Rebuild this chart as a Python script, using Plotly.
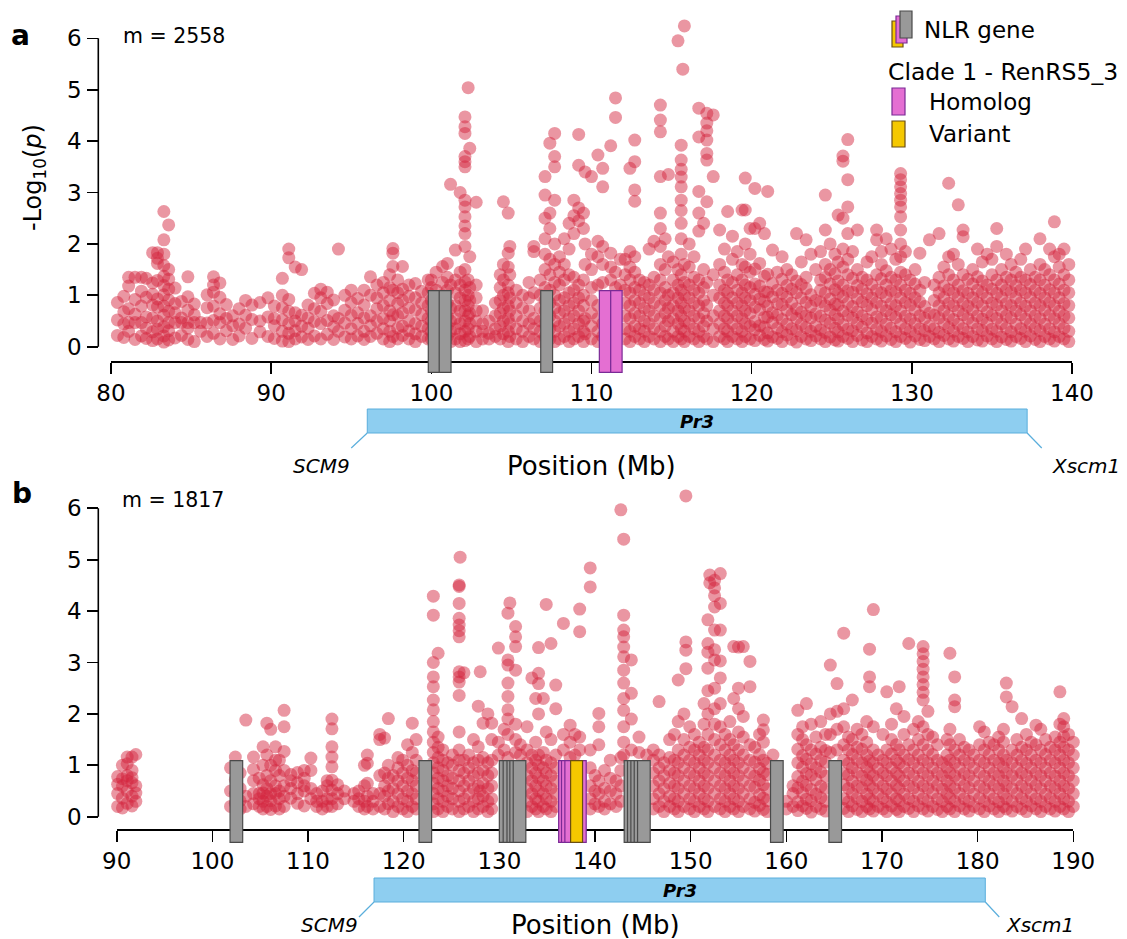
import plotly.graph_objects as go

W, H = 1127, 939

# ---------------- data ----------------
# Panel a: columns of (position Mb, [-log10 p values])
a_cols_80_100 = [
    (80.4, [0.22, 0.52, 0.86]), (80.8, [0.18, 0.44, 0.68, 0.98]),
    (81.1, [0.30, 0.47, 0.74, 1.18, 1.35]), (81.5, [0.14, 0.47, 0.63, 0.92, 1.35]),
    (81.9, [0.21, 0.47, 0.79, 1.08, 1.35]), (82.2, [0.16, 0.36, 0.58, 0.96, 1.33]),
    (82.6, [0.12, 0.29, 0.56, 0.81, 1.02, 1.24, 1.83]),
    (82.9, [0.15, 0.34, 0.50, 0.77, 0.93, 1.29, 1.62, 1.83, 1.72]),
    (83.3, [0.09, 0.21, 0.39, 0.61, 0.79, 1.01, 1.19, 1.37, 1.58, 1.80, 2.08, 2.63]),
    (83.6, [0.13, 0.31, 0.47, 0.69, 0.91, 1.12, 1.31, 1.50, 2.37]),
    (84.0, [0.17, 0.47, 0.66, 0.84, 1.14]), (84.4, [0.22, 0.47, 0.56, 0.88]),
    (84.8, [0.14, 0.36, 0.47, 0.71, 0.97, 1.36]), (85.2, [0.10, 0.47, 0.62, 0.83]),
    (85.6, [0.30, 0.47]), (86.0, [0.20, 0.46, 0.76, 1.01]),
    (86.4, [0.26, 0.51, 0.79, 1.06, 1.20, 1.36]), (86.8, [0.15, 0.47, 0.64, 0.96, 1.24]),
    (87.2, [0.31, 0.55, 0.82]), (87.6, [0.14, 0.41, 0.60]), (88.0, [0.21, 0.44, 0.74]),
    (88.4, [0.36, 0.61, 0.90]), (88.8, [0.16, 0.53, 0.81]), (89.3, [0.29, 0.50, 0.86]),
    (89.8, [0.20, 0.58, 0.95]), (90.2, [0.16, 0.41, 0.55, 0.79]),
    (90.7, [0.11, 0.30, 0.52, 0.76, 1.00, 1.33]),
    (91.1, [0.10, 0.26, 0.45, 0.69, 0.92, 1.73, 1.90]),
    (91.5, [0.15, 0.31, 0.50, 0.66, 1.55]), (91.9, [0.19, 0.40, 0.61, 1.50]),
    (92.3, [0.14, 0.36, 0.56, 0.81]), (92.7, [0.21, 0.49, 0.74, 1.04]),
    (93.1, [0.15, 0.45, 0.69, 0.95, 1.12]), (93.5, [0.24, 0.51, 0.84, 1.06]),
    (93.9, [0.14, 0.39, 0.60, 0.91]), (94.2, [0.30, 0.55, 1.90]),
    (94.6, [0.19, 0.46, 0.71, 1.00]), (95.0, [0.15, 0.35, 0.61, 0.86, 1.10]),
    (95.4, [0.21, 0.45, 0.66, 0.94]), (95.8, [0.14, 0.30, 0.56, 0.81, 1.10]),
    (96.2, [0.20, 0.41, 0.60, 1.00, 1.36]), (96.6, [0.26, 0.50, 0.74, 0.95, 1.20]),
    (97.0, [0.15, 0.35, 0.55, 0.80, 1.05, 1.25]),
    (97.4, [0.10, 0.30, 0.50, 0.70, 0.90, 1.15, 1.40]),
    (97.6, [0.20, 0.62, 1.10, 1.56, 1.82, 1.91]),
    (97.9, [0.15, 0.36, 0.60, 0.84, 1.05, 1.30]),
    (98.2, [0.22, 0.40, 0.66, 0.90, 1.12, 1.56]),
    (98.6, [0.15, 0.31, 0.50, 0.75, 0.98, 1.20]),
    (99.0, [0.10, 0.25, 0.45, 0.71, 0.95, 1.23]),
    (99.4, [0.20, 0.40, 0.62, 0.85, 1.08]),
    (99.8, [0.15, 0.35, 0.55, 0.80, 1.05, 1.30]),
]
a_cols_100_120 = [
    (100.0, [0.15, 0.30, 0.50, 0.70, 0.90, 1.15, 1.30]),
    (100.3, [0.10, 0.25, 0.45, 0.65, 0.85, 1.10, 1.45]),
    (100.7, [0.15, 0.35, 0.55, 0.80, 1.00, 1.25, 1.56]),
    (101.0, [0.20, 0.40, 0.60, 0.85, 1.10, 1.35, 1.62]),
    (101.2, [0.10, 0.30, 0.50, 0.75, 1.20, 3.16]),
    (101.5, [0.15, 0.35, 0.55, 0.80, 1.05, 1.30, 1.88]),
    (101.8, [0.10, 0.25, 0.45, 0.70, 0.95, 1.20, 1.45, 3.00]),
    (102.1, [0.12, 0.30, 0.50, 0.70, 0.90, 1.10, 1.26, 1.50, 1.95, 2.20, 2.35, 2.53,
             2.72, 2.85, 3.50, 3.60, 3.70, 4.15, 4.28, 4.47]),
    (102.3, [0.15, 0.35, 0.60, 0.80, 1.00, 1.30, 5.04]),
    (102.4, [0.20, 0.45, 0.65, 0.90, 1.15, 1.75, 3.86]),
    (102.8, [0.10, 0.30, 0.50, 0.70, 0.95, 1.20, 2.81]),
    (103.2, [0.15, 0.30, 0.45, 0.70]), (103.6, [0.15, 0.26, 0.50]),
    (104.0, [0.20, 0.35, 0.60, 0.85]), (104.3, [0.15, 0.40, 0.65, 0.90, 1.15, 1.40]),
    (104.5, [0.25, 0.50, 0.75, 1.00, 1.30, 1.60, 2.82]),
    (104.8, [0.10, 0.30, 0.55, 0.80, 1.05, 1.20, 1.55, 1.82, 2.60]),
    (104.9, [0.20, 0.45, 0.70, 0.95, 1.40, 1.95]),
    (105.3, [0.15, 0.35, 0.60, 0.85, 1.10]), (105.7, [0.10, 0.30, 0.50, 0.75, 1.00]),
    (106.1, [0.20, 0.45, 0.70, 0.95, 1.25]), (106.4, [0.15, 0.35, 0.55, 1.05, 1.85, 1.95]),
    (106.8, [0.10, 0.30, 0.50, 0.75, 1.00, 1.30]),
    (107.1, [0.20, 0.45, 0.70, 0.90, 1.15, 1.50, 1.80, 2.10, 2.50, 2.95, 3.31]),
    (107.4, [0.15, 0.35, 0.60, 0.85, 1.10, 1.40, 1.70, 2.30, 2.60, 3.96]),
    (107.7, [0.10, 0.30, 0.50, 0.75, 1.00, 1.25, 1.60, 2.00, 2.85, 3.50, 3.70, 4.15]),
    (108.0, [0.15, 0.40, 0.65, 0.90, 1.20, 1.45, 1.75]),
    (108.3, [0.20, 0.45, 0.70, 0.95, 1.30, 1.60, 2.10]),
    (108.6, [0.10, 0.30, 0.55, 0.80, 1.05, 1.40, 1.90, 2.40]),
    (108.9, [0.15, 0.35, 0.60, 0.85, 1.10, 1.35, 2.20, 2.55, 2.85]),
    (109.2, [0.20, 0.45, 0.70, 0.95, 1.20, 2.45, 2.70, 3.53, 4.13]),
    (109.5, [0.10, 0.30, 0.50, 0.80, 1.00, 1.30, 2.30, 2.60]),
    (109.6, [0.25, 0.55, 1.60, 2.00, 3.40]),
    (110.0, [0.15, 0.40, 0.65, 0.90, 1.15, 1.50, 1.80, 3.31]),
    (110.4, [0.10, 0.30, 0.55, 0.80, 1.20, 1.75, 2.05, 3.73]),
    (110.7, [0.20, 0.45, 1.25, 1.60, 1.95, 3.11, 3.47]),
    (111.2, [1.30, 1.55, 1.82, 3.91]), (111.5, [1.15, 1.45, 4.46, 4.84]),
    (111.8, [1.20, 1.70]),
    (112.1, [0.15, 0.35, 0.60, 0.85, 1.10, 1.40, 1.70]),
    (112.4, [0.10, 0.30, 0.55, 0.80, 1.05, 1.30, 1.55, 1.85, 3.47]),
    (112.7, [0.20, 0.40, 0.65, 0.90, 1.15, 1.45, 1.75, 2.83, 3.05, 3.60, 4.02]),
    (113.0, [0.15, 0.35, 0.60, 0.85, 1.10, 1.30]),
    (113.3, [0.10, 0.30, 0.50, 0.75, 1.00, 1.25]),
    (113.6, [0.20, 0.45, 0.70, 0.95, 1.20, 1.90]),
    (113.9, [0.15, 0.35, 0.60, 0.85, 1.10, 1.35, 2.05]),
    (114.3, [0.10, 0.30, 0.55, 0.80, 1.05, 1.30, 1.60, 1.95, 2.30, 2.60, 3.31, 4.18,
             4.41, 4.70]),
    (114.6, [0.20, 0.40, 0.65, 0.90, 1.15, 1.50, 2.10]),
    (114.8, [0.15, 0.50, 0.75, 1.00, 1.75, 3.35]),
    (115.1, [0.10, 0.30, 0.55, 0.80, 1.05, 1.30, 1.65]),
    (115.4, [0.20, 0.45, 0.70, 0.95, 1.20, 1.50, 5.95]),
    (115.6, [0.15, 0.35, 0.60, 0.85, 1.10, 1.40, 1.80, 2.10, 2.40, 2.65, 2.85, 3.11,
             3.30, 3.45, 3.63, 3.92]),
    (115.7, [5.40]), (115.8, [0.10, 0.30, 0.50, 0.75, 1.00, 1.25, 1.60, 6.24]),
    (116.1, [0.20, 0.45, 0.70, 0.95, 1.20, 1.55, 2.00]),
    (116.4, [0.15, 0.35, 0.60, 0.85, 1.10, 1.35, 1.75]),
    (116.7, [0.10, 0.30, 0.55, 0.80, 1.05, 1.30, 2.25, 2.60, 3.02, 4.08, 4.64]),
    (117.0, [0.20, 0.40, 0.65, 0.90, 1.15, 1.50, 2.40]),
    (117.2, [0.15, 0.50, 0.80, 1.25, 2.82, 3.63, 3.76, 4.02, 4.20, 4.35, 4.54]),
    (117.6, [0.10, 0.35, 0.60, 1.00, 1.40, 3.31, 4.51]),
    (118.0, [0.20, 0.45, 0.70, 0.95, 1.20, 1.60, 2.27]),
    (118.3, [0.15, 0.35, 0.60, 0.85, 1.10, 1.45, 1.90]),
    (118.5, [0.10, 0.30, 0.55, 0.80, 1.05, 1.30, 2.63]),
    (118.8, [0.20, 0.45, 0.70, 0.95, 1.25, 1.70, 2.15]),
    (119.1, [0.15, 0.35, 0.60, 0.85, 1.10, 1.40, 1.85]),
    (119.4, [0.10, 0.30, 0.55, 0.80, 1.05, 1.30, 1.60, 2.66]),
    (119.6, [0.20, 0.45, 0.70, 0.95, 1.20, 1.55, 2.00, 2.66, 3.28]),
    (119.9, [0.15, 0.40, 0.65, 0.90, 1.15, 1.45, 1.80, 2.30]),
]
a_cols_120_140 = [
    (120.2, [0.12, 0.33, 0.49, 0.77, 1.02, 1.22, 1.51, 2.30, 3.08]),
    (120.5, [0.22, 0.41, 0.72, 0.93, 1.18, 1.62, 2.40]),
    (120.8, [0.14, 0.38, 0.57, 0.88, 1.07, 1.37, 2.20]),
    (121.0, [0.11, 0.27, 0.58, 0.79, 1.06, 1.41, 3.02]),
    (121.3, [0.19, 0.47, 0.66, 0.97, 1.23, 1.88]),
    (121.6, [0.16, 0.36, 0.61, 0.84, 1.10, 1.45]),
    (121.9, [0.10, 0.29, 0.53, 0.82, 1.04, 1.31, 1.75]),
    (122.2, [0.23, 0.44, 0.71, 0.96, 1.19, 1.50]),
    (122.5, [0.14, 0.35, 0.62, 0.85, 1.12, 1.40]),
    (122.8, [0.09, 0.31, 0.55, 0.74, 1.05, 1.28, 2.20]),
    (123.1, [0.20, 0.44, 0.67, 0.95, 1.21, 1.65]),
    (123.4, [0.15, 0.37, 0.60, 0.86, 1.13, 1.35, 2.08]),
    (123.7, [0.12, 0.30, 0.56, 0.78, 1.01, 1.80]),
    (124.0, [0.21, 0.40, 0.64, 0.90, 1.50]),
    (124.3, [0.15, 0.33, 0.59, 0.87, 1.10, 1.30, 1.85]),
    (124.6, [0.10, 0.28, 0.52, 0.80, 1.05, 1.35, 1.60, 2.27, 2.95]),
    (124.9, [0.19, 0.46, 0.71, 0.93, 1.22, 1.50, 2.00]),
    (125.2, [0.13, 0.36, 0.62, 0.83, 1.11, 1.42, 1.80]),
    (125.4, [0.11, 0.29, 0.54, 0.81, 1.04, 1.28, 1.65, 2.56]),
    (125.7, [0.20, 0.43, 0.69, 0.97, 1.20, 1.55, 1.90, 2.50, 3.61, 3.71]),
    (126.0, [0.16, 0.34, 0.61, 0.85, 1.09, 1.40, 1.70, 2.20, 2.72, 3.25, 4.03]),
    (126.3, [0.10, 0.31, 0.56, 0.78, 1.06, 1.33, 1.85]),
    (126.6, [0.22, 0.45, 0.68, 0.94, 1.19, 1.50, 2.27]),
    (126.9, [0.13, 0.38, 0.60, 0.87, 1.12, 1.35]),
    (127.2, [0.10, 0.27, 0.53, 0.80, 1.03, 1.30, 1.65]),
    (127.5, [0.20, 0.46, 0.72, 0.95, 1.21, 1.75]),
    (127.8, [0.15, 0.34, 0.58, 0.86, 1.10, 1.40, 2.08, 2.27]),
    (128.1, [0.11, 0.30, 0.55, 0.79, 1.05, 1.32, 1.60, 1.85]),
    (128.4, [0.21, 0.44, 0.70, 0.97, 1.20, 1.48, 2.10]),
    (128.7, [0.14, 0.36, 0.62, 0.84, 1.09, 1.35, 1.90]),
    (129.0, [0.10, 0.29, 0.57, 0.80, 1.06, 1.30, 1.70]),
    (129.3, [0.20, 0.45, 0.70, 0.95, 1.20, 1.45, 1.75, 2.00, 2.27, 2.53, 2.72, 2.85,
             2.98, 3.11, 3.25, 3.37]),
    (129.6, [0.16, 0.35, 0.59, 0.86, 1.10, 1.40, 1.85]),
    (129.9, [0.09, 0.30, 0.54, 0.81, 1.04, 1.30]),
    (130.2, [0.21, 0.45, 0.71, 0.95, 1.22, 1.50]),
    (130.5, [0.14, 0.35, 0.60, 0.87, 1.10, 1.82]),
    (130.8, [0.12, 0.31, 0.55, 0.78, 1.25]),
    (131.1, [0.20, 0.40, 0.65, 2.08]),
    (131.4, [0.15, 0.35, 0.61, 0.90, 1.20]),
    (131.7, [0.10, 0.28, 0.56, 0.80, 1.05, 1.35, 2.20]),
    (132.0, [0.22, 0.45, 0.70, 0.95, 1.18, 1.55]),
    (132.3, [0.15, 0.37, 0.60, 0.84, 1.11, 1.40, 1.75, 3.18]),
    (132.6, [0.11, 0.30, 0.53, 0.80, 1.05, 1.30, 1.80]),
    (132.9, [0.20, 0.44, 0.70, 0.96, 1.20, 1.60, 2.76]),
    (133.2, [0.16, 0.35, 0.62, 0.85, 1.09, 1.40, 2.14, 2.27]),
    (133.5, [0.10, 0.29, 0.55, 0.79, 1.04, 1.31]),
    (133.8, [0.20, 0.46, 0.71, 0.95, 1.22, 1.50]),
    (134.1, [0.13, 0.35, 0.60, 0.86, 1.10, 1.36, 1.90]),
    (134.4, [0.11, 0.31, 0.54, 0.80, 1.05, 1.28, 1.65]),
    (134.7, [0.21, 0.45, 0.68, 0.95, 1.20, 1.80]),
    (135.0, [0.15, 0.34, 0.61, 0.85, 1.12, 1.40, 1.70]),
    (135.3, [0.10, 0.30, 0.55, 0.81, 1.04, 1.30, 1.95, 2.30]),
    (135.6, [0.19, 0.45, 0.70, 0.96, 1.20, 1.50]),
    (135.9, [0.14, 0.36, 0.60, 0.84, 1.10, 1.35, 1.80]),
    (136.2, [0.11, 0.29, 0.56, 0.80, 1.06, 1.30, 1.60]),
    (136.5, [0.20, 0.44, 0.70, 0.95, 1.19, 1.45]),
    (136.8, [0.16, 0.35, 0.62, 0.85, 1.10, 1.35, 1.70]),
    (137.1, [0.10, 0.30, 0.54, 0.79, 1.05, 1.30, 1.90]),
    (137.4, [0.21, 0.45, 0.70, 0.96, 1.21, 1.50]),
    (137.7, [0.14, 0.36, 0.60, 0.85, 1.10, 1.35]),
    (138.0, [0.10, 0.31, 0.55, 0.80, 1.04, 1.30, 1.60, 2.10]),
    (138.3, [0.20, 0.44, 0.71, 0.95, 1.20, 1.50]),
    (138.6, [0.15, 0.35, 0.61, 0.86, 1.11, 1.40, 1.90]),
    (138.9, [0.11, 0.29, 0.55, 0.80, 1.05, 1.30, 1.75, 2.43]),
    (139.2, [0.20, 0.45, 0.69, 0.95, 1.22, 1.55, 1.80]),
    (139.5, [0.15, 0.36, 0.60, 0.84, 1.10, 1.40, 1.90]),
    (139.8, [0.10, 0.30, 0.56, 0.80, 1.05, 1.30, 1.60]),
    (140.1, [0.21, 0.45, 0.70, 0.95, 1.20]),
]

# Panel b
b_cols_90_118 = [
    (90.1, [0.20, 0.45, 0.63, 0.78]), (90.6, [0.17, 0.36, 0.60, 0.74, 1.00]),
    (91.1, [0.26, 0.50, 0.70, 0.80, 1.03, 1.16]), (91.6, [0.21, 0.40, 0.66, 0.76, 0.90, 1.16]),
    (92.0, [0.30, 0.46, 0.60, 1.21]),
    (101.9, [0.20, 0.50, 0.95]), (102.4, [0.26, 0.45, 0.72, 1.16]),
    (102.9, [0.15, 0.31, 0.55, 0.85]), (103.5, [0.20, 0.40, 1.88]),
    (104.3, [0.25, 0.45, 0.70, 0.92, 1.16]), (104.9, [0.20, 0.35, 0.45, 0.75]),
    (105.3, [0.15, 0.30, 0.46, 0.62, 1.00, 1.36]), (105.7, [0.20, 0.40, 0.55, 0.80, 1.20, 1.82]),
    (106.1, [0.14, 0.31, 0.45, 0.70, 1.00, 1.70]), (106.6, [0.21, 0.45, 0.60, 0.90, 1.10, 1.36]),
    (107.0, [0.15, 0.35, 0.50, 0.80, 1.10]), (107.5, [0.20, 0.40, 0.60, 0.90, 1.27, 1.75, 2.07]),
    (108.2, [0.36, 0.55, 0.70, 0.82]), (108.9, [0.26, 0.45, 0.66, 0.86]),
    (109.6, [0.21, 0.50, 0.60, 0.75, 0.90]), (110.3, [0.35, 0.55, 0.90, 1.14]),
    (110.9, [0.20, 0.30, 0.45]), (111.5, [0.15, 0.30, 0.50]), (112.0, [0.20, 0.35, 0.60, 0.70]),
    (112.5, [0.20, 0.35, 0.52, 0.71, 0.97, 1.16, 1.36, 1.71, 1.90]),
    (113.1, [0.25, 0.45, 0.62]), (113.8, [0.35, 0.50]), (114.8, [0.30, 0.45]),
    (115.3, [0.20, 0.35, 0.50]), (115.9, [0.15, 0.30, 0.60, 1.00]),
    (116.2, [0.20, 0.40, 0.65, 1.04, 1.20]), (116.8, [0.15, 0.30, 0.45]),
    (117.5, [0.20, 0.45, 0.80, 1.50, 1.60]),
]
b_cols_118_156 = [
    (118.0, [0.15, 0.40, 0.60, 0.85, 1.53]), (118.4, [0.25, 0.50, 0.75, 1.00, 1.91]),
    (118.9, [0.10, 0.30, 0.55, 0.80]), (119.4, [0.20, 0.45, 0.70, 0.95, 1.15]),
    (119.9, [0.15, 0.35, 0.60, 0.85, 1.10]), (120.4, [0.10, 0.30, 0.50, 0.75, 1.00, 1.40]),
    (120.9, [0.20, 0.45, 0.70, 0.90, 1.25, 1.82]), (121.3, [0.15, 0.35, 0.60, 0.85, 1.10, 1.50]),
    (123.1, [0.10, 0.25, 0.45, 0.65, 0.85, 1.05, 1.25, 1.45, 1.65, 1.85, 2.08, 2.27,
             2.53, 2.72, 3.00, 3.92, 4.29]),
    (123.6, [0.15, 0.35, 0.55, 0.75, 0.95, 1.15, 1.35, 1.55, 3.18]),
    (124.1, [0.10, 0.30, 0.50, 0.70, 0.90, 1.10, 1.30]),
    (124.6, [0.20, 0.40, 0.60, 0.80, 1.05]), (125.1, [0.15, 0.35, 0.55, 0.75, 1.00, 1.20]),
    (125.8, [0.10, 0.30, 0.50, 0.70, 0.90, 1.10, 1.30, 1.65, 2.36, 2.62, 2.72, 2.82,
             3.50, 3.62, 3.73, 3.86, 4.15, 4.48, 4.51]),
    (125.9, [5.05]), (126.3, [0.15, 0.35, 0.60, 0.85, 1.10, 2.80]),
    (126.8, [0.20, 0.45, 0.70, 0.95, 1.20]), (127.3, [0.10, 0.30, 0.55, 0.80, 1.05, 1.50]),
    (127.8, [0.15, 0.35, 0.60, 0.85, 1.10, 1.36, 2.15]), (128.0, [0.50, 2.82]),
    (128.3, [0.20, 0.40, 0.65, 0.90, 1.15, 1.82]), (128.8, [0.10, 0.30, 0.55, 0.80, 1.05, 2.00]),
    (129.2, [0.15, 0.35, 0.60, 0.85, 1.10, 1.50, 1.82]),
    (129.9, [1.20, 1.45, 3.28]), (130.5, [1.30, 1.70]),
    (130.9, [1.15, 1.60, 1.90, 2.08, 2.34, 2.60, 2.95, 3.05, 3.96]), (131.1, [4.16]),
    (131.7, [1.25, 1.50, 1.80, 2.85, 3.31, 3.50, 3.70]), (132.2, [1.20, 1.40]),
    (132.9, [0.10, 0.30, 0.55, 0.80, 1.05, 1.30, 1.75]),
    (133.4, [0.20, 0.45, 0.70, 0.95, 1.20, 2.70]),
    (133.8, [0.15, 0.35, 0.60, 0.85, 1.10, 1.45, 2.30]),
    (134.1, [0.10, 0.30, 0.50, 0.75, 1.00, 1.20, 2.00, 2.59, 2.79, 3.29]),
    (134.6, [0.20, 0.45, 0.70, 0.95, 1.25, 2.30]),
    (134.9, [0.15, 0.35, 0.60, 0.85, 1.10, 1.65, 4.13]),
    (135.4, [0.10, 0.30, 0.55, 0.80, 1.05, 1.50, 3.37]),
    (135.9, [0.20, 0.45, 0.70, 0.95, 1.20, 2.10, 2.56]),
    (136.7, [1.30, 1.60, 3.76]), (137.4, [1.15, 1.45, 1.78]), (137.9, [1.20, 1.60]),
    (138.4, [1.30, 1.55, 3.60, 4.04]),
    (139.5, [0.15, 0.35, 0.60, 0.95, 1.30, 4.47, 4.84]), (140.0, [0.25, 0.50, 0.80]),
    (140.4, [0.20, 0.45, 0.70, 1.40, 1.75, 2.01]), (141.0, [0.15, 0.30, 0.55, 0.90]),
    (141.6, [0.25, 0.50, 0.75, 1.10]), (142.2, [0.20, 0.45, 0.70]),
    (142.7, [0.30, 0.60, 0.90, 1.15, 5.97]),
    (143.0, [1.20, 1.45, 1.75, 2.07, 2.30, 2.60, 2.85, 3.11, 3.30, 3.50, 3.63, 3.92, 5.40]),
    (143.8, [1.30, 1.90, 2.40, 3.05]), (144.6, [1.25, 1.55]), (145.4, [1.20]),
    (146.1, [0.15, 0.35, 0.60, 0.85, 1.10, 1.30]),
    (146.7, [0.20, 0.45, 0.70, 0.95, 1.20, 2.24]),
    (147.2, [0.10, 0.30, 0.55, 0.80, 1.05]), (147.8, [0.20, 0.40, 0.65, 0.90, 1.15, 1.50]),
    (148.3, [0.15, 0.35, 0.60, 0.85, 1.10, 1.60]),
    (148.7, [0.10, 0.30, 0.55, 0.80, 1.05, 1.30, 1.85, 2.66]),
    (149.3, [0.20, 0.45, 0.70, 0.95, 1.20, 1.50, 2.00]), (149.5, [2.88, 3.24, 3.40, 6.24]),
    (149.9, [0.15, 0.35, 0.60, 0.85, 1.10, 1.35, 1.75]),
    (150.4, [0.10, 0.30, 0.55, 0.80, 1.05, 1.30, 1.60]),
    (150.9, [0.20, 0.45, 0.70, 0.95, 1.20, 1.45]),
    (151.4, [0.15, 0.35, 0.60, 0.85, 1.10, 1.35, 1.80, 2.20]),
    (151.8, [0.10, 0.30, 0.55, 0.80, 1.05, 1.30, 1.60, 2.00, 2.45, 2.89, 3.20, 3.37, 3.83]),
    (152.0, [4.55, 4.70]),
    (152.5, [0.20, 0.45, 0.70, 0.95, 1.20, 1.50, 1.80, 2.10, 2.50, 3.05, 3.25, 3.63,
             4.08, 4.30, 4.45, 4.60]),
    (153.1, [0.15, 0.35, 0.60, 0.85, 1.10, 1.40, 1.75, 2.20, 2.70, 3.03, 3.63, 4.15, 4.73]),
    (153.6, [0.10, 0.30, 0.55, 0.80, 1.05, 1.30, 1.60]),
    (154.1, [0.20, 0.45, 0.70, 0.95, 1.20, 1.50, 1.85]),
    (154.5, [0.15, 0.35, 0.60, 0.85, 1.10, 1.40, 2.30, 3.31]),
    (155.0, [0.10, 0.30, 0.55, 0.80, 1.05, 1.30, 1.65, 2.10, 2.50, 3.30]),
    (155.5, [0.20, 0.45, 0.70, 0.95, 1.20, 1.55, 1.95, 3.31]),
    (156.2, [0.15, 0.35, 0.60, 0.85, 1.10, 1.40, 2.53, 3.02]),
]
b_cols_156_190 = [
    (156.7, [0.11, 0.28, 0.57, 0.79, 1.06, 1.35]), (157.2, [0.22, 0.43, 0.71, 0.94, 1.21, 1.60]),
    (157.6, [0.14, 0.36, 0.62, 0.86, 1.10, 1.45, 1.69, 1.88]),
    (158.0, [0.10, 0.31, 0.54, 0.82, 1.04]), (158.6, [1.20]),
    (160.0, [0.15, 0.30]), (160.7, [0.20, 0.45, 0.60]),
    (161.2, [0.12, 0.29, 0.56, 0.78, 1.05, 1.31, 1.60, 2.07]),
    (161.7, [0.21, 0.46, 0.69, 0.96, 1.19, 1.50, 1.75]),
    (162.1, [0.16, 0.34, 0.61, 0.84, 1.12, 1.40, 2.20]),
    (162.6, [0.09, 0.31, 0.53, 0.81, 1.03, 1.30, 1.80]),
    (163.1, [0.20, 0.44, 0.72, 0.95, 1.22, 1.55]),
    (163.6, [0.15, 0.37, 0.59, 0.87, 1.10, 1.35, 1.85]),
    (164.1, [0.11, 0.30, 0.55, 0.79, 1.06, 1.29, 1.60]),
    (164.6, [1.25, 1.60, 2.00, 2.95]), (165.3, [1.30, 1.70, 2.05, 2.59]),
    (166.0, [0.16, 0.35, 0.62, 0.84, 1.10, 1.40, 1.75, 2.10, 3.57]),
    (166.5, [0.10, 0.29, 0.55, 0.81, 1.04, 1.30, 1.55]),
    (166.9, [0.21, 0.45, 0.69, 0.95, 1.21, 1.50, 2.27]),
    (167.4, [0.14, 0.36, 0.60, 0.86, 1.11, 1.35, 1.70]),
    (167.9, [0.10, 0.30, 0.56, 0.79, 1.05, 1.31, 1.60]),
    (168.4, [0.20, 0.44, 0.71, 0.96, 1.20, 1.45, 1.85]),
    (168.7, [0.15, 0.35, 0.61, 0.85, 1.09, 2.53, 2.72, 3.26]),
    (169.1, [0.11, 0.30, 0.55, 0.80, 1.05, 1.30, 1.75, 4.03]),
    (169.6, [0.20, 0.45, 0.70, 0.94, 1.20]), (170.1, [0.15, 0.36, 0.60, 0.85, 1.10, 1.60]),
    (170.5, [0.10, 0.29, 0.54, 0.80, 1.05, 1.30, 2.43]),
    (171.0, [0.21, 0.45, 0.70, 0.95, 1.22, 1.50, 1.80]),
    (171.5, [0.14, 0.35, 0.61, 0.85, 1.10, 1.40, 2.10]),
    (171.8, [0.10, 0.31, 0.55, 0.79, 1.04, 1.30, 2.53]),
    (172.3, [0.20, 0.44, 0.70, 0.96, 1.20, 1.60, 1.95]),
    (172.8, [0.16, 0.35, 0.60, 0.85, 1.11, 1.40, 3.37]),
    (173.3, [0.10, 0.30, 0.56, 0.80, 1.05, 1.30, 1.70]),
    (173.8, [0.21, 0.45, 0.69, 0.95, 1.20, 1.50, 1.85]),
    (174.3, [0.15, 0.35, 0.60, 0.85, 1.10, 1.40, 1.75, 2.27, 2.42, 2.57, 2.72, 2.87,
             3.02, 3.17, 3.31]),
    (174.8, [0.11, 0.30, 0.55, 0.80, 1.05, 1.30, 1.60, 2.05]),
    (175.3, [0.20, 0.46, 0.70, 0.95, 1.21, 1.55]),
    (175.8, [0.14, 0.35, 0.61, 0.85, 1.10, 1.40]),
    (176.3, [0.10, 0.30, 0.54, 0.80, 1.05]),
    (176.8, [0.20, 0.45, 0.70, 0.96, 1.20, 1.50]),
    (177.1, [0.15, 0.36, 0.60, 0.85, 1.10, 1.40, 1.70, 3.18]),
    (177.6, [0.10, 0.30, 0.55, 0.80, 1.05, 1.30, 2.14, 2.27, 2.72]),
    (178.1, [0.21, 0.45, 0.71, 0.95, 1.20, 1.50]),
    (178.6, [0.15, 0.35, 0.60, 0.84, 1.10, 1.35]),
    (179.1, [0.11, 0.30, 0.56, 0.80, 1.05, 1.30]),
    (179.6, [0.20, 0.44, 0.70, 0.95, 1.20]),
    (180.2, [0.15, 0.36, 0.60, 0.86, 1.10, 1.40, 1.75]),
    (180.7, [0.10, 0.30, 0.55, 0.79, 1.05, 1.30, 1.65]),
    (181.2, [0.21, 0.45, 0.70, 0.95, 1.21, 1.45]),
    (181.7, [0.15, 0.35, 0.61, 0.85, 1.10, 1.40]),
    (182.2, [0.10, 0.29, 0.55, 0.80, 1.05, 1.30, 1.55]),
    (182.7, [0.20, 0.45, 0.70, 0.96, 1.20, 1.45, 1.70]),
    (183.0, [0.15, 0.35, 0.60, 0.85, 1.10, 2.33, 2.60]),
    (183.6, [0.11, 0.30, 0.55, 0.80, 1.05, 1.30, 2.14]),
    (184.1, [0.20, 0.45, 0.71, 0.95, 1.20, 1.50]),
    (184.6, [0.15, 0.36, 0.60, 0.85, 1.10, 1.35, 1.91]),
    (185.1, [0.10, 0.30, 0.55, 0.80, 1.04, 1.30, 1.60]),
    (185.6, [0.21, 0.45, 0.70, 0.95, 1.20, 1.45]),
    (186.1, [0.15, 0.35, 0.61, 0.85, 1.10, 1.40, 1.78]),
    (186.6, [0.10, 0.30, 0.55, 0.80, 1.05, 1.30, 1.70]),
    (187.1, [0.20, 0.44, 0.70, 0.95, 1.21, 1.50]),
    (187.6, [0.15, 0.36, 0.60, 0.85, 1.10, 1.35]),
    (188.1, [0.11, 0.30, 0.55, 0.79, 1.05, 1.30, 1.55]),
    (188.6, [0.20, 0.45, 0.70, 0.95, 1.20, 1.45, 1.80, 2.43]),
    (189.0, [0.15, 0.35, 0.60, 0.85, 1.10, 1.35, 1.56, 1.75, 1.91]),
    (189.5, [0.10, 0.30, 0.55, 0.80, 1.05, 1.30, 1.60]),
    (190.0, [0.20, 0.45, 0.70, 0.95, 1.20, 1.45]),
    (190.3, [0.25, 0.55, 0.85, 1.15]),
]

# NLR genes (start Mb) for each panel
a_nlr_grey = [99.81, 100.49, 106.83]
a_nlr_homolog = [110.49, 111.20]
b_nlr_grey = [101.85, 121.6, 130.0, 130.4, 130.8, 131.1, 131.45,
              143.05, 143.4, 143.75, 144.1, 144.45, 158.35, 164.45]
b_nlr_homolog = [136.2, 136.5, 136.85, 137.75]
b_nlr_variant = [137.45]
a_pr3 = (96.0, 137.2)
b_pr3 = (116.9, 180.8)
a_m, b_m = 2558, 1817
a_xticks = [80, 90, 100, 110, 120, 130, 140]
b_xticks = [90, 100, 110, 120, 130, 140, 150, 160, 170, 180, 190]
yticks = [0, 1, 2, 3, 4, 5, 6]


def flat(*groups):
    xs, ys = [], []
    for g in groups:
        for x, vals in g:
            for v in vals:
                xs.append(x)
                ys.append(v)
    return xs, ys


ax_, ay_ = flat(a_cols_80_100, a_cols_100_120, a_cols_120_140)
bx_, by_ = flat(b_cols_90_118, b_cols_118_156, b_cols_156_190)

# ---------------- geometry (pixels) ----------------
FONT = "DejaVu Sans"
PT_COLOR = "rgb(212,35,60)"
A_X0, A_X1 = 111, 1072          # pixel of 80 and 140
A_Y0PX, B_Y0PX = 346.7, 816.7   # pixel of y=0
YSCALE = 51.4                   # px per unit
A_AXIS_PX, B_AXIS_PX = 361, 829
B_X0, B_X1 = 116.7, 1073.3
Y_AXIS_PX = 98.3

a_dom_px = (450, 10)
b_dom_px = (915, 470)


def yrange(y0px, dom):
    bot, top = dom
    return [(y0px - bot) / YSCALE, (y0px - top) / YSCALE]


def py(p):
    return 1 - p / H


def px(p):
    return p / W


fig = go.Figure()
marker = dict(size=13, color=PT_COLOR, opacity=0.48, line=dict(width=0))
fig.add_trace(go.Scatter(x=ax_, y=ay_, mode="markers", marker=marker, cliponaxis=False,
                         xaxis="x", yaxis="y", hoverinfo="skip", showlegend=False))
fig.add_trace(go.Scatter(x=bx_, y=by_, mode="markers", marker=marker, cliponaxis=False,
                         xaxis="x2", yaxis="y2", hoverinfo="skip", showlegend=False))

tickfont = dict(family=FONT, size=23, color="black")
common_x = dict(showline=True, linecolor="black", linewidth=1.6, ticks="outside",
                ticklen=11, tickwidth=1.6, tickcolor="black", tickfont=tickfont,
                showgrid=False, zeroline=False, anchor="free", automargin=False,
                ticklabelstandoff=0)
common_y = dict(showline=False, ticks="outside", ticklen=11, tickwidth=1.6,
                tickcolor="black", tickfont=tickfont, showgrid=False, zeroline=False,
                anchor="free", position=px(Y_AXIS_PX), tickvals=yticks, automargin=False,
                ticklabelstandoff=1)

fig.update_layout(
    width=W, height=H, margin=dict(l=0, r=0, t=0, b=0, autoexpand=False),
    paper_bgcolor="white", plot_bgcolor="rgba(0,0,0,0)", hovermode=False,
    xaxis=dict(domain=[px(A_X0), px(A_X1)], range=[80, 140], tickvals=a_xticks,
               position=py(A_AXIS_PX), **common_x),
    yaxis=dict(domain=[py(a_dom_px[0]), py(a_dom_px[1])], range=yrange(A_Y0PX, a_dom_px),
               **common_y),
    xaxis2=dict(domain=[px(B_X0), px(B_X1)], range=[90, 190], tickvals=b_xticks,
                position=py(B_AXIS_PX), **common_x),
    yaxis2=dict(domain=[py(b_dom_px[0]), py(b_dom_px[1])], range=yrange(B_Y0PX, b_dom_px),
                **common_y),
)

shapes = []
ann = []

# y axis lines (0..6)
for yr in ("y", "y2"):
    shapes.append(dict(type="line", xref="paper", yref=yr, x0=px(Y_AXIS_PX), x1=px(Y_AXIS_PX),
                       y0=0, y1=6, line=dict(color="black", width=1.6)))

GREY = dict(fill="#999999", line="#4a4a4a")
PINK = dict(fill="#E46FD2", line="#7A2A96")
GOLD = dict(fill="#F5C800", line="#6B4E14")


def gene_boxes(starts, width, style, xr, yr):
    for s in starts:
        shapes.append(dict(type="rect", xref=xr, yref=yr, x0=s, x1=s + width,
                           y0=-0.5, y1=1.09, fillcolor=style["fill"],
                           line=dict(color=style["line"], width=1.2), layer="above"))


gene_boxes(a_nlr_grey, 0.74, GREY, "x", "y")
gene_boxes(a_nlr_homolog, 0.71, PINK, "x", "y")
gene_boxes(b_nlr_grey, 1.32, GREY, "x2", "y2")
gene_boxes(b_nlr_homolog, 1.33, PINK, "x2", "y2")
gene_boxes(b_nlr_variant, 1.25, GOLD, "x2", "y2")

BLUE_FILL, BLUE_LINE = "#8ECEF0", "#5AAEDC"


def text(x, y, s, size, xr="paper", yr="paper", xa="center", ya="middle", **kw):
    d = dict(x=x, y=y, xref=xr, yref=yr, text=s, showarrow=False, xanchor=xa, yanchor=ya,
             font=dict(family=FONT, size=size, color="black"))
    d.update(kw)
    ann.append(d)


def pr3(span, xr, top_px, bot_px, lab_px, dx_left, dx_right, right_gap, title_cx):
    x0, x1 = span
    shapes.append(dict(type="rect", xref=xr, yref="paper", x0=x0, x1=x1,
                       y0=py(bot_px), y1=py(top_px), fillcolor=BLUE_FILL,
                       line=dict(color=BLUE_LINE, width=1)))
    shapes.append(dict(type="line", xref=xr, yref="paper", x0=x0, x1=x0 - dx_left,
                       y0=py(bot_px), y1=py(bot_px + 15), line=dict(color=BLUE_LINE, width=1.2)))
    shapes.append(dict(type="line", xref=xr, yref="paper", x0=x1, x1=x1 + dx_right,
                       y0=py(bot_px), y1=py(bot_px + 15), line=dict(color=BLUE_LINE, width=1.2)))
    text((x0 + x1) / 2, py((top_px + bot_px) / 2), "<b><i>Pr3</i></b>", 18, xr=xr)
    text(x0 - dx_left, py(lab_px), "<i>SCM9</i>", 20, xr=xr, xa="right", xshift=1)
    text(x1 + dx_right, py(lab_px), "<i>Xscm1</i>", 20, xr=xr, xa="left", xshift=right_gap)
    text(title_cx, py(lab_px), "Position (Mb)", 26)


pr3(a_pr3, "x", 409, 433, 466, 1.0, 0.91, 8, px((A_X0 + A_X1) / 2))
pr3(b_pr3, "x2", 878, 902, 925, 1.57, 1.46, 5, px((B_X0 + B_X1) / 2))

# panel letters and m
text(px(20), py(35), "<b>a</b>", 28)
text(px(22), py(493), "<b>b</b>", 28)
text(px(121), py(36), f"m = {a_m}", 20.5, xa="left")
text(px(120), py(500), f"m = {b_m}", 20.5, xa="left")
text(px(35), py(178), "-Log<sub>10</sub>(<i>p</i>)", 24, textangle=-90)


# legend (drawn in paper space)
def lrect(x0, y0, x1, y1, st):
    shapes.append(dict(type="rect", xref="paper", yref="paper", x0=px(x0), x1=px(x1),
                       y0=py(y1), y1=py(y0), fillcolor=st["fill"],
                       line=dict(color=st["line"], width=1.2)))


lrect(892, 21, 903, 47, GOLD)
lrect(896, 16, 907, 43, PINK)
lrect(900, 11, 912, 38, GREY)
lrect(892, 88, 905, 115, PINK)
lrect(892, 121, 905, 147, GOLD)
for txt, x0, yc, fs in [("NLR gene", 922, 30, 23), ("Clade 1 - RenRS5_3", 886, 72, 23.5),
                        ("Homolog", 927, 102, 23), ("Variant", 927, 134, 23)]:
    text(px(x0), py(yc), txt, fs, xa="left")

fig.update_layout(shapes=shapes, annotations=ann)
fig.write_html("out.html", config={"displayModeBar": False, "staticPlot": True},
               post_script="document.body.style.margin='0px';"
                           "document.body.style.overflow='hidden';")
